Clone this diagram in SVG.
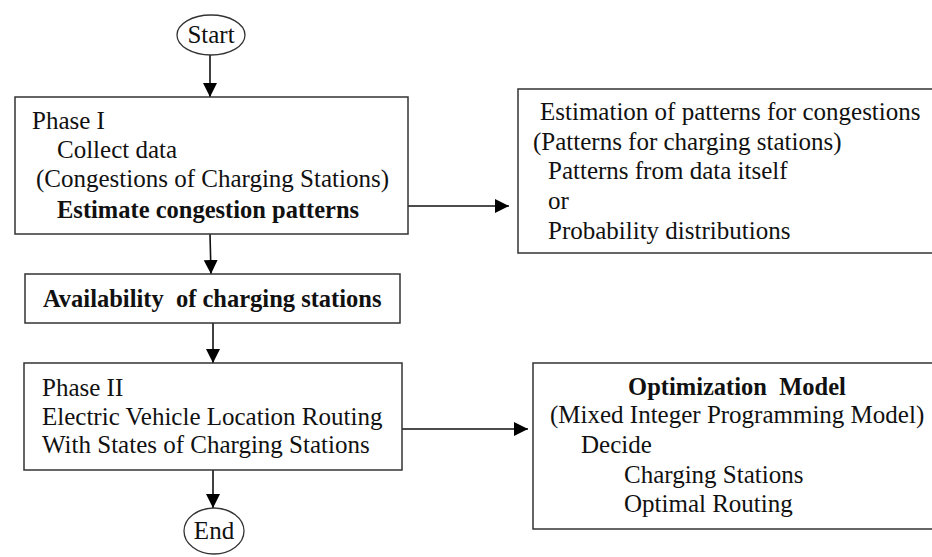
<svg xmlns="http://www.w3.org/2000/svg" width="932" height="557" viewBox="0 0 932 557">
  <style>
    .box { fill: #ffffff; stroke: #333333; stroke-width: 1.5; }
    .term { fill: #ffffff; stroke: #333333; stroke-width: 1.3; }
    .t { font-family: "Liberation Serif", "Times New Roman", serif; font-size: 25px; fill: #111111; }
    .b { font-weight: bold; font-size: 24.5px; }
    .c { text-anchor: middle; }
    .edge { fill: none; stroke: #111111; stroke-width: 1.6; }
  </style>
  <defs>
    <marker id="arrow" markerUnits="userSpaceOnUse" markerWidth="14" markerHeight="14" viewBox="0 0 14 14" refX="14" refY="7" orient="auto">
      <path d="M0,0 L14,7 L0,14 Z" fill="#000000"/>
    </marker>
  </defs>

  <rect width="932" height="557" fill="#ffffff"/>

  <!-- connectors -->
  <g id="connectors">
    <line class="edge" x1="210" y1="55" x2="210" y2="97" marker-end="url(#arrow)"/>
    <line class="edge" x1="210" y1="234" x2="211" y2="274" marker-end="url(#arrow)"/>
    <line class="edge" x1="213" y1="323" x2="213" y2="363" marker-end="url(#arrow)"/>
    <line class="edge" x1="213" y1="470" x2="213" y2="508" marker-end="url(#arrow)"/>
    <line class="edge" x1="392" y1="206" x2="509" y2="206" marker-end="url(#arrow)"/>
    <line class="edge" x1="395" y1="429" x2="528" y2="429" marker-end="url(#arrow)"/>
  </g>

  <!-- nodes -->
  <g id="start">
    <ellipse class="term" cx="211" cy="35" rx="34" ry="20"/>
    <text class="t c" x="211" y="43">Start</text>
  </g>

  <g id="phase1">
    <rect class="box" x="15" y="97" width="393" height="137"/>
    <text class="t" x="32" y="129">Phase I</text>
    <text class="t" x="57" y="158">Collect data</text>
    <text class="t" x="36" y="187">(Congestions of Charging Stations)</text>
    <text class="t b" x="57" y="218">Estimate congestion patterns</text>
  </g>

  <g id="patterns">
    <rect class="box" x="518" y="89" width="420" height="164"/>
    <text class="t" x="540" y="120">Estimation of patterns for congestions</text>
    <text class="t" x="533" y="150">(Patterns for charging stations)</text>
    <text class="t" x="548" y="179">Patterns from data itself</text>
    <text class="t" x="548" y="209">or</text>
    <text class="t" x="548" y="239">Probability distributions</text>
  </g>

  <g id="availability">
    <rect class="box" x="25" y="274" width="375" height="49"/>
    <text class="t b" x="43" y="307" xml:space="preserve">Availability  of charging stations</text>
  </g>

  <g id="phase2">
    <rect class="box" x="24" y="363" width="378" height="107"/>
    <text class="t" x="42" y="396">Phase II</text>
    <text class="t" x="42" y="425">Electric Vehicle Location Routing</text>
    <text class="t" x="42" y="453">With States of Charging Stations</text>
  </g>

  <g id="model">
    <rect class="box" x="533" y="363" width="405" height="166"/>
    <text class="t b c" x="737" y="395" xml:space="preserve">Optimization  Model</text>
    <text class="t" x="550" y="423">(Mixed Integer Programming Model)</text>
    <text class="t" x="581" y="453">Decide</text>
    <text class="t" x="624" y="483">Charging Stations</text>
    <text class="t" x="624" y="512">Optimal Routing</text>
  </g>

  <g id="end">
    <ellipse class="term" cx="214" cy="531" rx="30" ry="23"/>
    <text class="t c" x="214" y="539">End</text>
  </g>
</svg>
